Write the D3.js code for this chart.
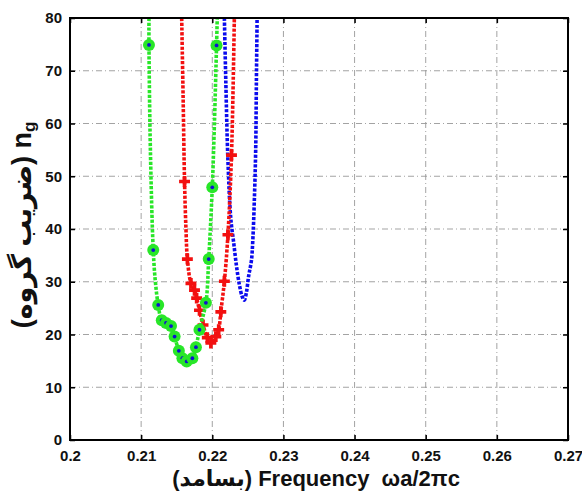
<!DOCTYPE html>
<html>
<head>
<meta charset="utf-8">
<script src="https://cdn.jsdelivr.net/npm/d3@7"></script>
<style>
  body { margin: 0; background: #fff; }
  svg { display: block; }
  text { font-family: "Liberation Sans", Arial, "DejaVu Sans", sans-serif; font-weight: bold; }
</style>
</head>
<body>
<svg width="582" height="493"></svg>
<script>
// axis ticks
var xTicks = [0.2, 0.21, 0.22, 0.23, 0.24, 0.25, 0.26, 0.27];
var yTicks = [0, 10, 20, 30, 40, 50, 60, 70, 80];

// green curve (line) and its circle markers
var greenX = [0.2111, 0.2111, 0.2113, 0.2117, 0.2120, 0.2124, 0.2129, 0.2135, 0.2142, 0.2147, 0.2153, 0.2158, 0.2164, 0.2172, 0.2177, 0.2182, 0.2191, 0.2195, 0.2200, 0.2203, 0.2206, 0.2207];
var greenY = [80, 74.9, 55, 36.0, 30, 25.6, 22.7, 22.2, 21.6, 19.6, 16.9, 15.5, 14.9, 15.5, 17.6, 20.9, 26.0, 34.3, 47.9, 60, 74.8, 80];
var greenMarkX = [0.2111, 0.2117, 0.2124, 0.2129, 0.2135, 0.2142, 0.2147, 0.2153, 0.2158, 0.2164, 0.2172, 0.2177, 0.2182, 0.2191, 0.2195, 0.2200, 0.2206];
var greenMarkY = [74.9, 36.0, 25.6, 22.7, 22.2, 21.6, 19.6, 16.9, 15.5, 14.9, 15.5, 17.6, 20.9, 26.0, 34.3, 47.9, 74.8];

// red curve and its plus markers
var redX = [0.2157, 0.2159, 0.2161, 0.2163, 0.2165, 0.2170, 0.2175, 0.2178, 0.2182, 0.2187, 0.2193, 0.2198, 0.2205, 0.2209, 0.2212, 0.2217, 0.2222, 0.2227, 0.2231];
var redY = [80, 65, 49.0, 40, 34.3, 29.7, 28.4, 26.9, 24.6, 21.8, 19.4, 18.4, 19.6, 20.9, 24.3, 30.1, 38.9, 54.0, 80];
var redMarkX = [0.2161, 0.2165, 0.2170, 0.2175, 0.2178, 0.2182, 0.2187, 0.2193, 0.2198, 0.2205, 0.2209, 0.2212, 0.2217, 0.2222, 0.2227];
var redMarkY = [49.0, 34.3, 29.7, 28.4, 26.9, 24.6, 21.8, 19.4, 18.4, 19.6, 20.9, 24.3, 30.1, 38.9, 54.0];

// blue curve (no markers)
var blueX = [0.2217, 0.2219, 0.2222, 0.2226, 0.2230, 0.2234, 0.2238, 0.2242, 0.2245, 0.2248, 0.2251, 0.2255, 0.2257, 0.2259, 0.2261, 0.2262, 0.2263];
var blueY = [80, 68, 53, 42, 37.5, 33, 29.5, 27.2, 26.5, 28, 31, 34, 38, 45, 55, 68, 80];

var margin = {left: 70, top: 18, right: 14, bottom: 53};
var W = 582 - margin.left - margin.right;
var H = 493 - margin.top - margin.bottom;

var svg = d3.select("svg");
var g = svg.append("g").attr("transform", "translate(" + margin.left + "," + margin.top + ")");

var x = d3.scaleLinear().domain([0.2, 0.27]).range([0, W]);
var y = d3.scaleLinear().domain([0, 80]).range([H, 0]);

// grid
g.selectAll("line.gx").data(xTicks.slice(1, -1)).enter().append("line")
  .attr("x1", d => x(d)).attr("x2", d => x(d)).attr("y1", 0).attr("y2", H)
  .attr("stroke", "#999").attr("stroke-width", 0.9).attr("stroke-dasharray", "6,3,1,3");
g.selectAll("line.gy").data(yTicks.slice(1, -1)).enter().append("line")
  .attr("y1", d => y(d)).attr("y2", d => y(d)).attr("x1", 0).attr("x2", W)
  .attr("stroke", "#999").attr("stroke-width", 0.9).attr("stroke-dasharray", "6,3,1,3");

// axes, inward ticks on all sides
var fmt = d3.format("");
g.append("g").attr("transform", "translate(0," + H + ")")
  .call(d3.axisBottom(x).tickValues(xTicks).tickFormat(fmt).tickSizeInner(-5).tickSizeOuter(0).tickPadding(10));
g.append("g")
  .call(d3.axisLeft(y).tickValues(yTicks).tickFormat(fmt).tickSizeInner(-5).tickSizeOuter(0).tickPadding(8));
g.append("g")
  .call(d3.axisTop(x).tickValues(xTicks).tickFormat("").tickSizeInner(-5).tickSizeOuter(0));
g.append("g").attr("transform", "translate(" + W + ",0)")
  .call(d3.axisRight(y).tickValues(yTicks).tickFormat("").tickSizeInner(-5).tickSizeOuter(0));
g.selectAll(".domain").remove();
g.selectAll(".tick line").attr("stroke", "#000").attr("stroke-width", 1.5);
g.selectAll(".tick text").attr("font-size", 15).attr("fill", "#111")
  .attr("font-family", "'Liberation Sans', Arial, sans-serif").attr("font-weight", "bold");

// curves
var line = d3.line().x(d => x(d[0])).y(d => y(d[1])).curve(d3.curveCatmullRom.alpha(0.5));
function series(xs, ys, color) {
  g.append("path").datum(d3.zip(xs, ys))
    .attr("d", line).attr("fill", "none").attr("stroke", color)
    .attr("stroke-width", 3.6).attr("stroke-dasharray", "3.2,1.6");
}
series(blueX, blueY, "#0a0aee");
series(redX, redY, "#f21010");

g.selectAll("path.plus").data(d3.zip(redMarkX, redMarkY)).enter().append("path")
  .attr("d", d3.symbol().type(d3.symbolCross).size(66))
  .attr("transform", d => "translate(" + x(d[0]) + "," + y(d[1]) + ")")
  .attr("fill", "#f21010");

series(greenX, greenY, "#28e628");

var gm = g.selectAll("g.gm").data(d3.zip(greenMarkX, greenMarkY)).enter().append("g")
  .attr("transform", d => "translate(" + x(d[0]) + "," + y(d[1]) + ")");
gm.append("circle").attr("r", 6).attr("fill", "#28e628");
gm.append("circle").attr("r", 1.9).attr("fill", "#1010d0");

// frame
g.append("rect").attr("width", W).attr("height", H)
  .attr("fill", "none").attr("stroke", "#000").attr("stroke-width", 2);

// axis titles
svg.append("text")
  .attr("x", 316).attr("y", 486)
  .attr("text-anchor", "middle").attr("font-size", 22).attr("fill", "#111")
  .style("white-space", "pre")
  .text("(بسامد) Frequency  ωa/2πc");

var yl = svg.append("text")
  .attr("transform", "translate(31," + 225 + ") rotate(-90)")
  .attr("text-anchor", "middle").attr("font-size", 27).attr("fill", "#111");
yl.append("tspan").text("(ضریب گروه) n");
yl.append("tspan").attr("font-size", 17).attr("dy", 4).text("g");
</script>
</body>
</html>
